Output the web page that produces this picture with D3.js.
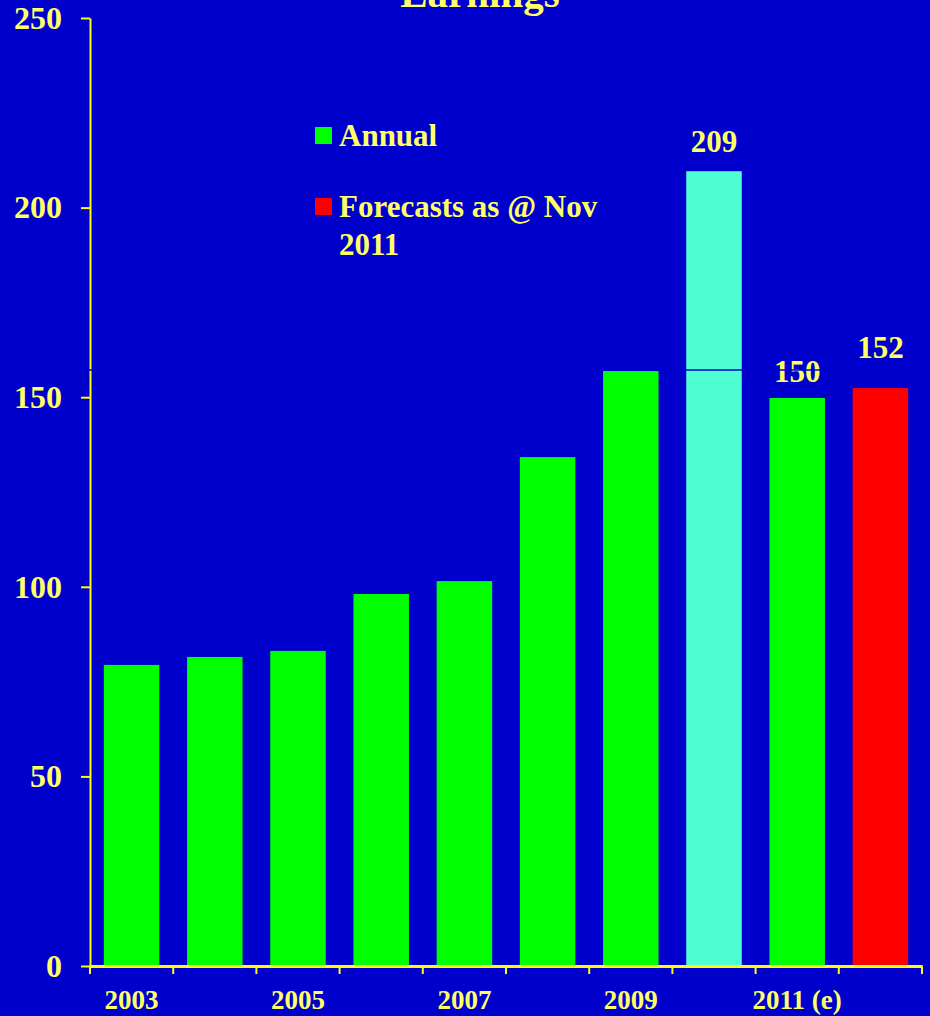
<!DOCTYPE html>
<html>
<head>
<meta charset="utf-8">
<script src="https://cdn.jsdelivr.net/npm/d3@7"></script>
<style>
  html, body { margin: 0; padding: 0; background: #0000CC; }
  svg { display: block; }
  text { font-family: "Liberation Serif", "Times New Roman", serif; font-weight: bold; fill: #FFFF66; }
</style>
</head>
<body>
<svg id="chart" width="930" height="1016"></svg>
<script>
// Data
const years = ["2003", "2004", "2005", "2006", "2007", "2008", "2009", "2010", "2011 (e)", "2012 (e)"];
const earnings = [79.4, 81.5, 83.1, 98.1, 101.5, 134.2, 156.9, 209.6, 149.8, 152.4];
const barKinds = ["annual", "annual", "annual", "annual", "annual", "annual", "annual", "highlight", "annual", "forecast"];
const valueLabels = ["", "", "", "", "", "", "", "209", "150", "152"];
const shownYears = ["2003", "2005", "2007", "2009", "2011 (e)"];
const yTicks = [0, 50, 100, 150, 200, 250];
const legendItems = [
    { kind: "annual", lines: ["Annual"] },
    { kind: "forecast", lines: ["Forecasts as @ Nov", "2011"] }
];

const colors = { annual: "#00FF00", highlight: "#4DFFD2", forecast: "#FF0000" };
const yellow = "#FFFF00";
// label gap above bar (px), the forecast label sits higher
const labelGap = { highlight: 19, annual: 16, forecast: 30 };

const svg = d3.select("#chart");
const margin = { left: 90, right: 8, top: 18, bottom: 50 };
const width = 930, height = 1016;

const x = d3.scaleBand()
    .domain(years)
    .range([margin.left, width - margin.right])
    .paddingInner(0.333)
    .paddingOuter(0.1665);

const y = d3.scaleLinear()
    .domain([0, 250])
    .range([height - margin.bottom, margin.top]);

// Title (cut off at the top)
svg.append("text")
    .attr("x", 480)
    .attr("y", 7)
    .attr("text-anchor", "middle")
    .style("font-size", "41px")
    .text("Earnings");

// Bars
const data = years.map((yr, i) => ({ year: yr, value: earnings[i], kind: barKinds[i], label: valueLabels[i] }));

svg.append("g")
    .selectAll("rect")
    .data(data)
    .enter().append("rect")
    .attr("x", d => x(d.year))
    .attr("y", d => y(d.value))
    .attr("width", x.bandwidth())
    .attr("height", d => y(0) - y(d.value))
    .attr("fill", d => colors[d.kind]);

// Value labels
svg.append("g")
    .selectAll("text")
    .data(data.filter(d => d.label))
    .enter().append("text")
    .attr("x", d => x(d.year) + x.bandwidth() / 2)
    .attr("y", d => y(d.value) - labelGap[d.kind])
    .attr("text-anchor", "middle")
    .style("font-size", "31px")
    .text(d => d.label);

// Y axis
const yAxis = svg.append("g")
    .attr("transform", `translate(${margin.left},0)`)
    .call(d3.axisLeft(y).tickValues(yTicks).tickSize(9).tickSizeOuter(0).tickPadding(19));
yAxis.select(".domain").attr("stroke", yellow).attr("stroke-width", 2);
yAxis.selectAll(".tick line").attr("stroke", yellow).attr("stroke-width", 2);
yAxis.selectAll(".tick text")
    .attr("fill", "#FFFF66")
    .style("font-size", "32px")
    .style("font-family", "Liberation Serif, serif");

// X axis
const xAxis = svg.append("g")
    .attr("transform", `translate(0,${y(0)})`)
    .call(d3.axisBottom(x).tickSize(0).tickPadding(24)
        .tickFormat(d => shownYears.includes(d) ? d : ""));
xAxis.select(".domain").attr("stroke", yellow).attr("stroke-width", 3);
xAxis.selectAll(".tick text")
    .attr("fill", "#FFFF66")
    .style("font-size", "27px")
    .style("font-family", "Liberation Serif, serif");

// band boundary ticks
const boundaries = years.map(d => x(d) - x.step() * x.paddingInner() / 2)
    .concat([x(years[years.length - 1]) + x.bandwidth() + x.step() * x.paddingInner() / 2]);
xAxis.selectAll(".bound")
    .data(boundaries)
    .enter().append("line")
    .attr("class", "bound")
    .attr("x1", d => d).attr("x2", d => d)
    .attr("y1", 0).attr("y2", 8)
    .attr("stroke", yellow)
    .attr("stroke-width", 2);

// thin stray line across the plot (background coloured)
svg.append("line")
    .attr("x1", 80)
    .attr("x2", 825)
    .attr("y1", y(157.2))
    .attr("y2", y(157.2))
    .attr("stroke", "#0000CC")
    .attr("stroke-width", 1.5);

// Legend
const legend = svg.append("g").attr("transform", "translate(315,127)");
legendItems.forEach((item, i) => {
    const g = legend.append("g").attr("transform", `translate(0,${i * 71})`);
    g.append("rect")
        .attr("width", 17)
        .attr("height", 17)
        .attr("fill", colors[item.kind]);
    item.lines.forEach((ln, j) => {
        g.append("text")
            .attr("x", 24)
            .attr("y", 19 + j * 38)
            .style("font-size", "31px")
            .text(ln);
    });
});
</script>
</body>
</html>
